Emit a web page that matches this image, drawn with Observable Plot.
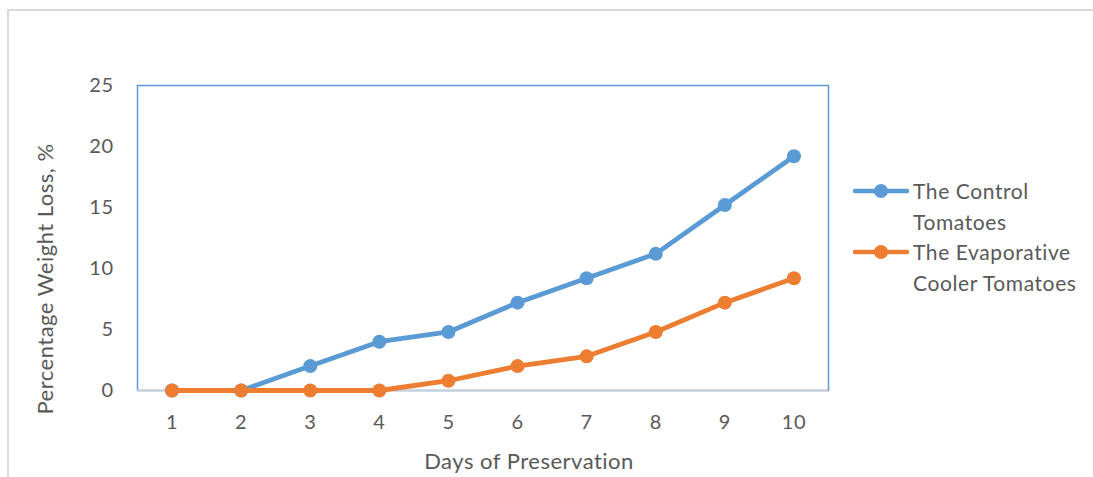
<!DOCTYPE html>
<html>
<head>
<meta charset="utf-8">
<script src="https://cdn.jsdelivr.net/npm/d3@7"></script>
<script src="https://cdn.jsdelivr.net/npm/@observablehq/plot@0.6"></script>
<style>
  html, body { margin: 0; padding: 0; background: #fff; }
  #wrap { position: relative; width: 1093px; height: 477px; overflow: hidden; font-family: Lato, "Open Sans", sans-serif; }
  #sheet { position: absolute; left: 7px; top: 9px; right: -10px; bottom: -10px; border-left: 2px solid #d9d9d9; border-top: 2px solid #d9d9d9; }
  #chart { position: absolute; left: 0; top: 0; }
  #chart text { letter-spacing: 0.5px; }
  #legend { position: absolute; left: 853px; top: 176px; color: #595959; font-size: 21px; line-height: 30.5px; letter-spacing: 0.6px; }
  .item { display: flex; align-items: flex-start; }
  .item svg { flex: none; margin-top: 5px; margin-right: 4px; }
</style>
</head>
<body>
<div id="wrap">
  <div id="sheet"></div>
  <div id="chart"></div>
  <div id="legend"></div>
</div>
<script>
// Days on the x axis
const days = [1, 2, 3, 4, 5, 6, 7, 8, 9, 10];
// Percentage weight loss per day
const controlLoss = [0, 0, 2.0, 4.0, 4.8, 7.2, 9.2, 11.2, 15.2, 19.2];
const coolerLoss = [0, 0, 0, 0, 0.8, 2.0, 2.8, 4.8, 7.2, 9.2];
const seriesNames = ["The Control Tomatoes", "The Evaporative Cooler Tomatoes"];
const seriesLegendLines = [["The Control", "Tomatoes"], ["The Evaporative", "Cooler Tomatoes"]];
const seriesColors = ["#5B9BD5", "#ED7D31"];
const yTicks = [0, 5, 10, 15, 20, 25];

const rows = [];
[controlLoss, coolerLoss].forEach((vals, s) => {
  days.forEach((d, i) => rows.push({ day: d, loss: vals[i], series: seriesNames[s] }));
});

const textColor = "#595959";

const plot = Plot.plot({
  width: 1093,
  height: 477,
  marginLeft: 137,
  marginRight: 265,
  marginTop: 85,
  marginBottom: 87,
  style: { fontFamily: "Lato, 'Open Sans', sans-serif", fontSize: "20px", color: textColor, background: "transparent" },
  x: { domain: [0.5, 10.5] },
  y: { domain: [0, 25] },
  color: { domain: seriesNames, range: seriesColors },
  marks: [
    Plot.frame({ stroke: "#5B9BD5", strokeWidth: 1.5 }),
    Plot.ruleY([0], { stroke: "#c8d0d8", strokeWidth: 2 }),
    Plot.axisY(yTicks, { tickSize: 0, tickPadding: 24, fontSize: 20, fill: textColor, label: null }),
    Plot.axisX(days, { tickSize: 0, tickPadding: 24, fontSize: 20, fill: textColor, label: null }),
    Plot.text(["Percentage Weight Loss, %"], { frameAnchor: "left", textAnchor: "middle", rotate: -90, dx: -92, dy: 41, fontSize: 22, fill: textColor }),
    Plot.text(["Days of Preservation"], { frameAnchor: "bottom", dx: 46, dy: 78, fontSize: 22, fill: textColor }),
    Plot.line(rows, { x: "day", y: "loss", z: "series", stroke: "series", strokeWidth: 4.8 }),
    Plot.dot(rows, { x: "day", y: "loss", fill: "series", r: 7 })
  ]
});
document.getElementById("chart").append(plot);

// Legend: line-with-marker swatch and wrapped series name
const legend = document.getElementById("legend");
seriesLegendLines.forEach((lines, i) => {
  const item = document.createElement("div");
  item.className = "item";
  item.innerHTML =
    `<svg width="56" height="20"><line x1="2" y1="10" x2="54" y2="10" stroke="${seriesColors[i]}" stroke-width="4.5" stroke-linecap="round"/>` +
    `<circle cx="28" cy="10" r="7" fill="${seriesColors[i]}"/></svg>` +
    `<div>${lines.join("<br>")}</div>`;
  legend.append(item);
});
</script>
</body>
</html>
